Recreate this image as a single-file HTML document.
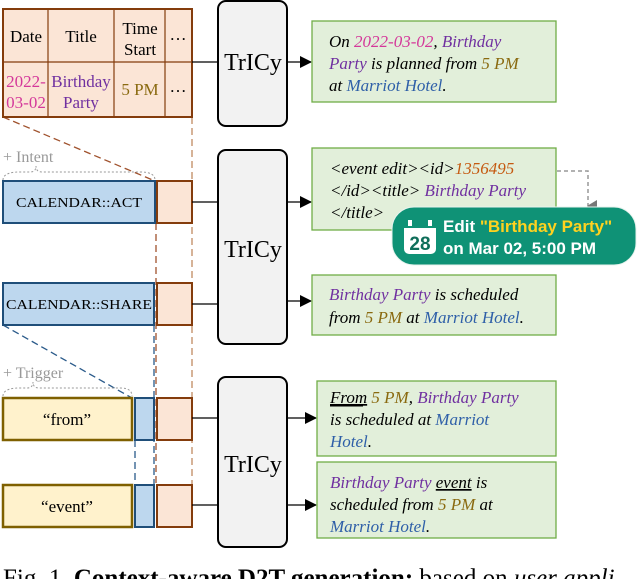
<!DOCTYPE html>
<html><head><meta charset="utf-8"><style>
body{margin:0;background:#fff}
svg{display:block}
text{font-family:"Liberation Serif",serif}
.it{font-style:italic}
</style></head><body>
<svg width="640" height="579" viewBox="0 0 640 579" xmlns="http://www.w3.org/2000/svg">
<defs><marker id="ar" markerWidth="12" markerHeight="12" refX="11" refY="6" orient="auto" markerUnits="userSpaceOnUse"><path d="M0,0 L12,6 L0,12z" fill="#000"/></marker>
<marker id="ag" markerWidth="12" markerHeight="10" refX="6" refY="9" orient="auto" markerUnits="userSpaceOnUse"><path d="M0,0 L12,0 L6,10z" fill="#777"/></marker></defs>

<g fill="none" stroke-width="1.3" stroke-dasharray="7,4">
<line x1="3" y1="117" x2="155" y2="181" stroke="#a0522d"/>
<line x1="192" y1="117" x2="192" y2="485" stroke="#c08a60"/>
<line x1="156" y1="223" x2="156" y2="485" stroke="#a0522d"/>
<line x1="3" y1="325" x2="132" y2="398" stroke="#2a5a8a"/>
<line x1="135" y1="440" x2="135" y2="485" stroke="#2a5a8a"/>
<line x1="154" y1="325" x2="154" y2="485" stroke="#2a5a8a"/>
</g>

<rect x="3" y="9" width="189" height="108" fill="#fbe5d6" stroke="#843c0c" stroke-width="2"/>
<g stroke="#843c0c" stroke-width="1.2"><line x1="48" y1="9" x2="48" y2="117"/><line x1="114" y1="9" x2="114" y2="117"/><line x1="165" y1="9" x2="165" y2="117"/><line x1="3" y1="62" x2="192" y2="62"/></g>
<g font-size="17" text-anchor="middle">
<text x="26" y="42">Date</text><text x="81" y="42">Title</text>
<text x="140" y="34">Time</text><text x="140" y="55">Start</text>
<text x="178" y="40">…</text><text x="178" y="92">…</text>
<text x="26" y="87" fill="#d4389a">2022-</text><text x="26" y="108" fill="#d4389a">03-02</text>
<text x="81" y="87" fill="#7030a0">Birthday</text><text x="81" y="108" fill="#7030a0">Party</text>
<text x="140" y="95" fill="#8a6a10">5 PM</text>
</g>

<text x="3" y="162" font-size="16" fill="#999">+ Intent</text>
<path d="M3,180 Q3,172 20,172 L30,172 Q36,172 36,166 Q36,172 42,172 L140,172 Q155,172 155,180" fill="none" stroke="#999" stroke-dasharray="2,2"/>
<rect x="3" y="181" width="152" height="42" fill="#bdd7ee" stroke="#1f4e79" stroke-width="2"/>
<rect x="157" y="181" width="35" height="42" fill="#fbe5d6" stroke="#843c0c" stroke-width="2"/>
<text x="79" y="207" font-size="14" text-anchor="middle" textLength="126" lengthAdjust="spacingAndGlyphs">CALENDAR::ACT</text>
<rect x="3" y="283" width="151" height="42" fill="#bdd7ee" stroke="#1f4e79" stroke-width="2"/>
<rect x="157" y="283" width="35" height="42" fill="#fbe5d6" stroke="#843c0c" stroke-width="2"/>
<text x="79" y="309" font-size="14" text-anchor="middle" textLength="146" lengthAdjust="spacingAndGlyphs">CALENDAR::SHARE</text>

<text x="3" y="378" font-size="16" fill="#999">+ Trigger</text>
<path d="M3,396 Q3,388 20,388 L27,388 Q33,388 33,382 Q33,388 39,388 L120,388 Q132,388 132,396" fill="none" stroke="#999" stroke-dasharray="2,2"/>
<rect x="3" y="398" width="129" height="42" fill="#fff2cc" stroke="#7f6000" stroke-width="2.5"/>
<rect x="135" y="398" width="19" height="42" fill="#bdd7ee" stroke="#1f4e79" stroke-width="2"/>
<rect x="157" y="398" width="35" height="42" fill="#fbe5d6" stroke="#843c0c" stroke-width="2"/>
<text x="67" y="425" font-size="17" text-anchor="middle">“from”</text>
<rect x="3" y="485" width="129" height="42" fill="#fff2cc" stroke="#7f6000" stroke-width="2.5"/>
<rect x="135" y="485" width="19" height="42" fill="#bdd7ee" stroke="#1f4e79" stroke-width="2"/>
<rect x="157" y="485" width="35" height="42" fill="#fbe5d6" stroke="#843c0c" stroke-width="2"/>
<text x="67" y="512" font-size="17" text-anchor="middle">“event”</text>

<g fill="#f2f2f2" stroke="#000" stroke-width="2">
<rect x="218" y="1" width="69" height="125" rx="8"/>
<rect x="218" y="150" width="69" height="194" rx="8"/>
<rect x="218" y="377" width="69" height="170" rx="8"/>
</g>
<g font-size="24" text-anchor="middle"><text x="253" y="70">TrICy</text><text x="253" y="257">TrICy</text><text x="253" y="472">TrICy</text></g>

<g stroke="#000" stroke-width="1.3">
<line x1="192" y1="62" x2="218" y2="62"/><line x1="192" y1="202" x2="218" y2="202"/><line x1="192" y1="304" x2="218" y2="304"/><line x1="192" y1="418" x2="218" y2="418"/><line x1="192" y1="505" x2="218" y2="505"/>
<line x1="287" y1="62" x2="311" y2="62" marker-end="url(#ar)"/>
<line x1="287" y1="202" x2="311" y2="202" marker-end="url(#ar)"/>
<line x1="287" y1="301" x2="311" y2="301" marker-end="url(#ar)"/>
<line x1="287" y1="418" x2="316" y2="418" marker-end="url(#ar)"/>
<line x1="287" y1="505" x2="316" y2="505" marker-end="url(#ar)"/>
</g>

<g fill="#e2efda" stroke="#70ad47" stroke-width="1.3">
<rect x="312" y="21" width="244" height="81"/>
<rect x="312" y="148" width="244" height="82"/>
<rect x="312" y="275" width="244" height="60"/>
<rect x="317" y="381" width="239" height="75"/>
<rect x="317" y="462" width="239" height="76"/>
</g>
<g font-size="17">
<text x="329" y="47" class="it">On <tspan fill="#d4389a">2022-03-02</tspan>, <tspan fill="#7030a0">Birthday</tspan></text>
<text x="329" y="69" class="it"><tspan fill="#7030a0">Party</tspan> is planned from <tspan fill="#8a6a10">5 PM</tspan></text>
<text x="329" y="91" class="it">at <tspan fill="#2e5fa8">Marriot Hotel</tspan>.</text>
<text x="330" y="174" class="it">&lt;event  edit&gt;&lt;id&gt;<tspan fill="#c55a11">1356495</tspan></text>
<text x="330" y="196" class="it">&lt;/id&gt;&lt;title&gt; <tspan fill="#7030a0">Birthday Party</tspan></text>
<text x="330" y="218" class="it">&lt;/title&gt;</text>
<text x="329" y="300" class="it"><tspan fill="#7030a0">Birthday Party</tspan> is scheduled</text>
<text x="329" y="323" class="it">from <tspan fill="#8a6a10">5 PM</tspan> at <tspan fill="#2e5fa8">Marriot Hotel</tspan>.</text>
<text x="330" y="403" class="it"><tspan text-decoration="underline">From</tspan> <tspan fill="#8a6a10">5 PM</tspan>, <tspan fill="#7030a0">Birthday Party</tspan></text>
<text x="330" y="425" class="it">is scheduled at <tspan fill="#2e5fa8">Marriot</tspan></text>
<text x="330" y="447" class="it" fill="#2e5fa8">Hotel<tspan fill="#000">.</tspan></text>
<text x="330" y="488" class="it"><tspan fill="#7030a0">Birthday Party</tspan> <tspan text-decoration="underline">event</tspan> is</text>
<text x="330" y="510" class="it">scheduled from <tspan fill="#8a6a10">5 PM</tspan> at</text>
<text x="330" y="532" class="it" fill="#2e5fa8">Marriot Hotel<tspan fill="#000">.</tspan></text>
</g>
<line x1="330" y1="406" x2="363" y2="406" stroke="#000" stroke-width="1"/>

<path d="M557,171 L588,171 L588,206" fill="none" stroke="#999" stroke-width="1.5" stroke-dasharray="4,3" marker-end="url(#ag)"/>

<rect x="392" y="207" width="244" height="58" rx="22" fill="#0f9276" stroke="#e8f3ee" stroke-width="1"/>
<rect x="404" y="222" width="32" height="32" rx="5" fill="#fff"/>
<rect x="404" y="222" width="32" height="6" fill="#0f9276"/>
<rect x="408" y="220" width="4" height="6" fill="#fff"/><rect x="428" y="220" width="4" height="6" fill="#fff"/>
<text x="420" y="250" font-size="19" font-weight="bold" fill="#0f6e5a" text-anchor="middle" style="font-family:'Liberation Sans',sans-serif">28</text>
<text x="443" y="232" font-size="17" font-weight="bold" fill="#fff" style="font-family:'Liberation Sans',sans-serif">Edit <tspan fill="#ffd21f">"Birthday Party"</tspan></text>
<text x="443" y="254" font-size="17" font-weight="bold" fill="#fff" style="font-family:'Liberation Sans',sans-serif">on Mar 02, 5:00 PM</text>

<text x="3" y="586" font-size="25">Fig. 1. <tspan font-weight="bold">Context-aware D2T generation:</tspan> based on <tspan font-style="italic">user appli</tspan></text>
</svg>
</body></html>
